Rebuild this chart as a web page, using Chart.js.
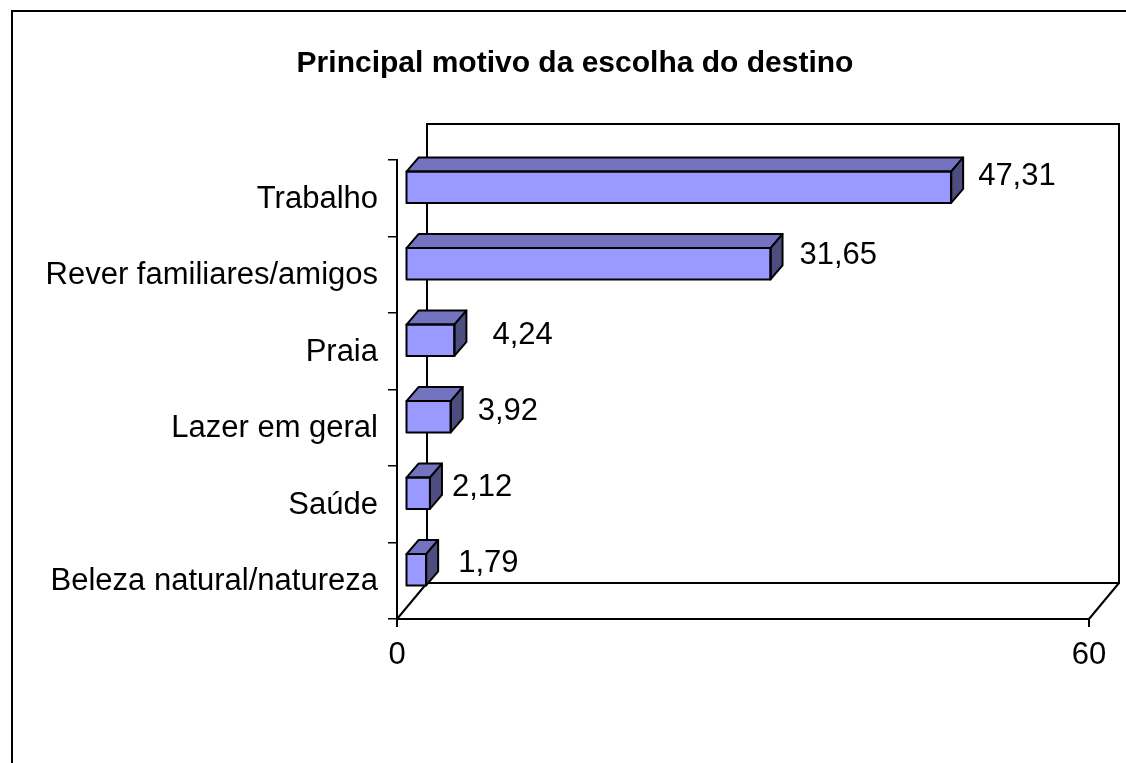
<!DOCTYPE html>
<html>
<head>
<meta charset="utf-8">
<title>Principal motivo da escolha do destino</title>
<script src="https://cdn.jsdelivr.net/npm/chart.js@4"></script>
<style>
    html, body { margin: 0; padding: 0; background: #fff; overflow: hidden; }
    canvas { display: block; }
</style>
</head>
<body>
<canvas id="motivoChart" width="1126" height="763"></canvas>
<script>
const categories = ['Trabalho', 'Rever familiares/amigos', 'Praia', 'Lazer em geral', 'Saúde', 'Beleza natural/natureza'];
const percentages = [47.31, 31.65, 4.24, 3.92, 2.12, 1.79];
const axisTicks = [0, 60];
const titleText = 'Principal motivo da escolha do destino';

const FONT = '"Liberation Sans", Arial, sans-serif';
const BLACK = '#000';
const FRONT = '#9999ff';
const TOP = '#7373bf';
const SIDE = '#4d4d80';

// fake 3D: wall depth and bar depth in pixels
const WALL_DX = 30, WALL_DY = 36;
const BAR_DX = 12, BAR_DY = 14;
const BAR_SHIFT_X = 8.5, BAR_SHIFT_Y = -11;
// the value labels do not sit at a constant distance from the bars in the original
const labelNudges = [[27, -11], [29, -8], [38, -5], [27, -5], [22, -6], [32, -6]];

function line(ctx, x1, y1, x2, y2) {
    ctx.beginPath();
    ctx.moveTo(x1, y1);
    ctx.lineTo(x2, y2);
    ctx.stroke();
}

function face(ctx, points, fill) {
    ctx.beginPath();
    points.forEach((p, i) => i ? ctx.lineTo(p[0], p[1]) : ctx.moveTo(p[0], p[1]));
    ctx.closePath();
    ctx.fillStyle = fill;
    ctx.fill();
    ctx.stroke();
}

const bars3d = {
    id: 'bars3d',
    beforeDraw(chart) {
        const ctx = chart.ctx;
        // y labels need the whole left side, so only the title box is narrowed here
        chart.titleBlock.left = 61;
        ctx.save();
        ctx.fillStyle = '#fff';
        ctx.fillRect(0, 0, chart.width, chart.height);
        ctx.strokeStyle = BLACK;
        ctx.lineWidth = 2;
        ctx.strokeRect(12, 11, 1200, 900);
        ctx.restore();
    },
    beforeDatasetsDraw(chart) {
        const ctx = chart.ctx;
        const a = chart.chartArea;
        ctx.save();
        ctx.strokeStyle = BLACK;
        ctx.lineWidth = 2;
        // back wall + floor
        ctx.strokeRect(a.left + WALL_DX, a.top - WALL_DY, a.width, a.height);
        line(ctx, a.left, a.bottom, a.left + WALL_DX, a.bottom - WALL_DY);
        line(ctx, a.right, a.bottom, a.right + WALL_DX, a.bottom - WALL_DY);
        ctx.restore();
    },
    beforeDatasetDraw(chart) {
        chart.ctx.save();
        chart.ctx.translate(BAR_SHIFT_X, BAR_SHIFT_Y);
    },
    afterDatasetDraw(chart) {
        chart.ctx.restore();
    },
    afterDatasetsDraw(chart) {
        const ctx = chart.ctx;
        const meta = chart.getDatasetMeta(0);
        ctx.save();
        ctx.translate(BAR_SHIFT_X, BAR_SHIFT_Y);
        ctx.strokeStyle = BLACK;
        ctx.lineWidth = 2;
        ctx.lineJoin = 'round';
        meta.data.forEach((bar, i) => {
            const p = bar.getProps(['x', 'y', 'base', 'height'], true);
            const t = p.y - p.height / 2, b = p.y + p.height / 2;
            face(ctx, [[p.base, t], [p.base + BAR_DX, t - BAR_DY], [p.x + BAR_DX, t - BAR_DY], [p.x, t]], TOP);
            face(ctx, [[p.x, t], [p.x + BAR_DX, t - BAR_DY], [p.x + BAR_DX, b - BAR_DY], [p.x, b]], SIDE);
            ctx.strokeRect(p.base, t, p.x - p.base, p.height);

            // value label, comma decimals
            ctx.fillStyle = BLACK;
            ctx.font = '31px ' + FONT;
            ctx.textAlign = 'left';
            ctx.textBaseline = 'middle';
            ctx.fillText(percentages[i].toFixed(2).replace('.', ','), p.x + labelNudges[i][0], p.y + labelNudges[i][1]);
        });
        ctx.restore();
    }
};

new Chart(document.getElementById('motivoChart'), {
    type: 'bar',
    plugins: [bars3d],
    data: {
        labels: categories,
        datasets: [{
            data: percentages,
            backgroundColor: FRONT,
            borderWidth: 0,
            categoryPercentage: 1,
            barPercentage: 0.41,
            clip: false
        }]
    },
    options: {
        indexAxis: 'y',
        responsive: false,
        animation: false,
        layout: { padding: { left: 0, right: 37, top: 0, bottom: 50 } },
        plugins: {
            legend: { display: false },
            tooltip: { enabled: false },
            title: {
                display: true,
                text: titleText,
                color: BLACK,
                font: { family: FONT, size: 30, weight: 'bold' },
                padding: { top: 46, bottom: 78 }
            }
        },
        scales: {
            x: {
                min: axisTicks[0],
                max: axisTicks[1],
                afterBuildTicks(scale) { scale.ticks = axisTicks.map(v => ({ value: v })); },
                afterFit(scale) { scale.height = 94; },
                grid: { drawOnChartArea: false, color: BLACK, lineWidth: 2, tickLength: 8 },
                border: { color: BLACK, width: 2 },
                ticks: { color: BLACK, font: { family: FONT, size: 31 }, padding: 10, maxRotation: 0 }
            },
            y: {
                afterFit(scale) { scale.width = 397; },
                grid: { drawOnChartArea: false, color: BLACK, lineWidth: 1.5, tickLength: 9 },
                border: { color: BLACK, width: 2 },
                ticks: { color: BLACK, font: { family: FONT, size: 31 }, padding: 10, autoSkip: false, labelOffset: 1 }
            }
        }
    }
});
</script>
</body>
</html>
